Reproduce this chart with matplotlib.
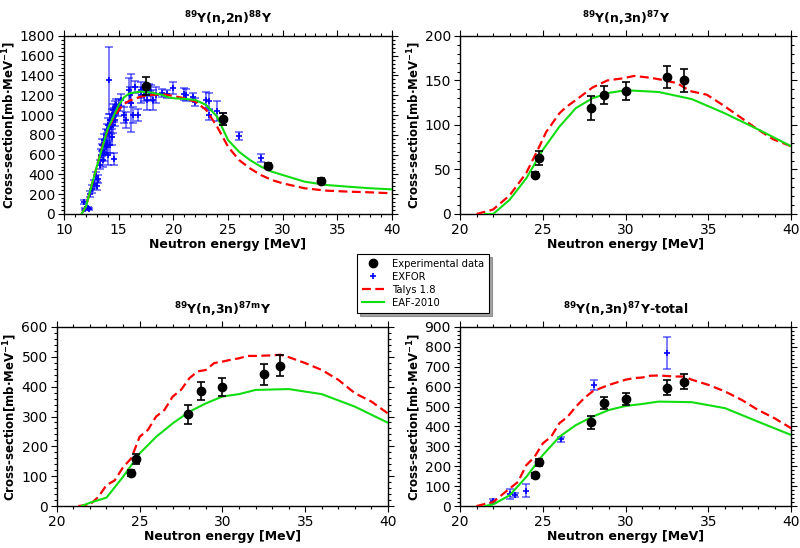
import matplotlib
matplotlib.use("Agg")
import matplotlib.pyplot as plt
from matplotlib.ticker import MultipleLocator, AutoMinorLocator
import numpy as np

# ---------------- Panel 1: 89Y(n,2n)88Y ----------------
p1_exp_e = [17.5, 24.5, 28.7, 33.5]
p1_exp_s = [1290, 960, 490, 335]
p1_exp_err = [90, 60, 30, 25]

p1_exfor_e = [11.8, 11.9, 12.2, 12.3, 12.4, 12.6, 12.7, 12.9, 13.0, 13.1,
              13.3, 13.4, 13.5, 13.5, 13.6, 13.7, 13.7, 13.8, 13.8, 13.9,
              13.9, 14.0, 14.0, 14.1, 14.1, 14.2, 14.2, 14.3, 14.4, 14.4,
              14.5, 14.5, 14.6, 14.6, 14.7, 14.7, 14.8, 14.9, 15.0, 15.2,
              15.5, 15.7, 15.9, 16.0, 16.1, 16.3, 16.5, 16.8, 17.0, 17.0,
              17.3, 17.6, 17.8, 18.0, 18.1, 18.4, 19.0, 19.4, 20.0, 21.0,
              21.2, 21.8, 22.0, 23.0, 23.3, 23.3, 24.0, 24.5, 26.0, 28.0]
p1_exfor_s = [120, 50, 60, 55, 200, 250, 300, 380, 280, 350,
              500, 600, 650, 700, 550, 750, 620, 800, 680, 850,
              720, 900, 600, 1350, 820, 950, 700, 880, 1000, 780,
              1050, 900, 1000, 560, 1080, 950, 1100, 1050, 1100, 1150,
              1000, 950, 1250, 1200, 1120, 1000, 1280, 1000, 1250, 1200,
              1200, 1150, 1250, 1220, 1150, 1200, 1220, 1210, 1270, 1210,
              1200, 1180, 1130, 1150, 1140, 1000, 1040, 960, 790, 570]
p1_exfor_err = [20, 10, 10, 10, 30, 40, 40, 40, 40, 40,
                50, 60, 60, 60, 80, 60, 80, 60, 80, 60,
                100, 70, 100, 340, 80, 60, 80, 70, 60, 80,
                60, 80, 70, 60, 60, 60, 60, 60, 60, 60,
                80, 80, 120, 80, 290, 80, 60, 60, 80, 80,
                60, 100, 60, 80, 100, 80, 40, 40, 60, 60,
                60, 40, 40, 80, 80, 50, 100, 60, 40, 40]

p1_talys_e = [11.6, 12, 12.5, 13, 13.5, 14, 14.5, 15, 15.5, 16, 17, 18, 19, 20,
              21, 22, 23, 24, 25, 26, 27, 28, 29, 30, 32, 34, 36, 38, 40]
p1_talys_s = [0, 74, 276, 479, 681, 849, 967, 1052, 1112, 1146, 1186, 1203, 1210, 1193,
              1170, 1136, 1052, 883, 681, 546, 462, 394, 344, 310, 260, 236, 226, 219, 209]
p1_eaf_e = [11.6, 12, 13, 14, 15, 15.5, 16, 17, 18, 19, 19.5, 20, 21, 22, 23,
            24, 25, 26, 27, 28, 29, 30, 32, 34, 36, 38, 40]
p1_eaf_s = [0, 74, 480, 860, 1100, 1180, 1220, 1237, 1227, 1203, 1180, 1170, 1163, 1153, 1102,
            984, 748, 630, 546, 479, 428, 394, 327, 293, 276, 260, 249]

# ---------------- Panel 2: 89Y(n,3n)87Y ----------------
p2_exp_e = [24.5, 24.8, 27.9, 28.7, 30.0, 32.5, 33.5]
p2_exp_s = [44, 63, 119, 134, 138, 154, 150]
p2_exp_err = [3, 8, 13, 10, 10, 12, 13]
p2_talys_e = [21, 22, 23, 24, 24.8, 25.2, 26, 26.4, 27, 28, 28.9, 29.7, 30, 30.5, 31.5,
              32.1, 33.1, 33.9, 34.9, 35.9, 36.9, 37.9, 38.9, 40]
p2_talys_s = [0, 5, 21, 46, 76, 92, 113, 120, 128, 142, 150, 152, 153, 155, 153,
              151, 147, 138, 134, 122, 109, 96, 84, 76]
p2_eaf_e = [21.5, 22, 23, 24, 25, 26, 27, 28, 29, 30, 32, 34, 36, 38, 40]
p2_eaf_s = [0, 0, 16, 40, 72, 98, 119, 130, 136, 139, 137, 129, 113, 95, 76]

# ---------------- Panel 3: 89Y(n,3n)87mY ----------------
p3_exp_e = [24.5, 24.8, 27.9, 28.7, 30.0, 32.5, 33.5]
p3_exp_s = [112, 157, 307, 385, 400, 441, 470]
p3_exp_err = [10, 17, 32, 30, 30, 35, 35]
p3_talys_e = [21.3, 22, 22.5, 23, 23.5, 24, 24.5, 25, 25.5, 26, 26.5, 27, 27.5, 28, 28.5,
              29, 29.5, 30, 30.5, 31, 31.5, 32, 33, 33.5, 34, 35, 36, 37, 38, 39, 40]
p3_talys_s = [0, 5, 30, 70, 86, 130, 160, 232, 255, 300, 322, 367, 389, 428, 451,
              456, 479, 484, 490, 495, 503, 503, 505, 507, 499, 479, 456, 423, 378, 350, 310]
p3_eaf_e = [21.5, 22, 23, 24, 25, 26, 27, 28, 29, 30, 31, 32, 34, 36, 38, 40]
p3_eaf_s = [0, 11, 28, 98, 176, 232, 277, 316, 344, 367, 375, 389, 392, 375, 333, 279]

# ---------------- Panel 4: 89Y(n,3n)87Y-total ----------------
p4_exp_e = [24.5, 24.8, 27.9, 28.7, 30.0, 32.5, 33.5]
p4_exp_s = [155, 220, 420, 518, 540, 595, 625]
p4_exp_err = [12, 18, 35, 30, 30, 38, 38]
p4_exfor_e = [22.0, 23.0, 23.3, 24.0, 24.5, 26.1, 28.1, 32.5]
p4_exfor_s = [25, 60, 55, 78, 155, 335, 610, 770]
p4_exfor_err = [12, 25, 8, 35, 10, 12, 25, 80]
p4_talys_e = [21, 22, 23, 23.5, 24, 24.5, 25, 25.5, 26, 26.5, 27, 27.5, 28, 28.5, 29,
              30, 30.5, 31, 31.5, 32, 33, 33.5, 34, 35, 36, 37, 38, 39, 40]
p4_talys_s = [0, 20, 88, 121, 205, 247, 315, 348, 416, 449, 500, 542, 576, 593, 609,
              635, 643, 646, 655, 656, 651, 651, 635, 609, 576, 534, 483, 441, 391]
p4_eaf_e = [21.5, 22, 23, 24, 25, 26, 27, 28, 29, 30, 31, 32, 34, 36, 38, 40]
p4_eaf_s = [0, 8, 54, 146, 256, 348, 407, 449, 483, 503, 513, 525, 522, 492, 424, 357]

titles = [r"$\mathbf{^{89}}$Y(n,2n)$\mathbf{^{88}}$Y", r"$\mathbf{^{89}}$Y(n,3n)$\mathbf{^{87}}$Y",
          r"$\mathbf{^{89}}$Y(n,3n)$\mathbf{^{87m}}$Y", r"$\mathbf{^{89}}$Y(n,3n)$\mathbf{^{87}}$Y-total"]
ylabel = "Cross-section[mb·MeV$\\mathbf{^{-1}}$]"
xlabel = "Neutron energy [MeV]"
legend_labels = ["Experimental data", "EXFOR", "Talys 1.8", "EAF-2010"]

plt.rcParams['font.family'] = ['DejaVu Sans']
plt.rcParams['mathtext.fontset'] = 'dejavusans'

fig = plt.figure(figsize=(8, 5.48), dpi=100)
axpos = [[0.080, 0.6095, 0.410, 0.325],
         [0.575, 0.6095, 0.414, 0.325],
         [0.071, 0.0766, 0.414, 0.3267],
         [0.575, 0.0766, 0.414, 0.3267]]

RED = "#ff0000"
GREEN = "#11dd11"
BLUE = "#0000ff"

panels = [
    dict(exp=(p1_exp_e, p1_exp_s, p1_exp_err), exfor=(p1_exfor_e, p1_exfor_s, p1_exfor_err),
         talys=(p1_talys_e, p1_talys_s), eaf=(p1_eaf_e, p1_eaf_s),
         xlim=(10, 40), ylim=(0, 1800), ymaj=200),
    dict(exp=(p2_exp_e, p2_exp_s, p2_exp_err), exfor=None,
         talys=(p2_talys_e, p2_talys_s), eaf=(p2_eaf_e, p2_eaf_s),
         xlim=(20, 40), ylim=(0, 200), ymaj=50),
    dict(exp=(p3_exp_e, p3_exp_s, p3_exp_err), exfor=None,
         talys=(p3_talys_e, p3_talys_s), eaf=(p3_eaf_e, p3_eaf_s),
         xlim=(20, 40), ylim=(0, 600), ymaj=100),
    dict(exp=(p4_exp_e, p4_exp_s, p4_exp_err), exfor=(p4_exfor_e, p4_exfor_s, p4_exfor_err),
         talys=(p4_talys_e, p4_talys_s), eaf=(p4_eaf_e, p4_eaf_s),
         xlim=(20, 40), ylim=(0, 900), ymaj=100),
]

handles = None
for i, p in enumerate(panels):
    ax = fig.add_axes(axpos[i])
    h_ex = None
    if p['exfor'] is not None:
        e, s, er = p['exfor']
        ax.errorbar(e, s, yerr=er, fmt='none', ecolor=BLUE, alpha=0.6,
                    elinewidth=1.2, capsize=3, capthick=1.2, zorder=2)
        h_ex, = ax.plot(e, s, '+', color=BLUE, ms=5, mew=1.2, zorder=3, linestyle='none')
    e, s = p['talys']
    h_t, = ax.plot(e, s, '--', color=RED, lw=1.6, dashes=(4, 2), zorder=4)
    e, s = p['eaf']
    h_g, = ax.plot(e, s, '-', color=GREEN, lw=1.5, zorder=4)
    e, s, er = p['exp']
    ax.errorbar(e, s, yerr=er, fmt='none', ecolor='black', elinewidth=1.2,
                capsize=3, capthick=1.2, zorder=5)
    h_e, = ax.plot(e, s, 'o', color='black', ms=6, zorder=6, linestyle='none')
    if h_ex is None:
        h_ex = ax.plot([], [], '+', color=BLUE, ms=5, mew=1.2, linestyle='none')[0]
    if handles is None:
        handles = [h_e, h_ex, h_t, h_g]

    ax.set_xlim(*p['xlim'])
    ax.set_ylim(*p['ylim'])
    ax.xaxis.set_major_locator(MultipleLocator(5))
    ax.xaxis.set_minor_locator(MultipleLocator(1))
    ax.yaxis.set_major_locator(MultipleLocator(p['ymaj']))
    ax.yaxis.set_minor_locator(AutoMinorLocator(5))
    ax.tick_params(which='both', direction='out', top=True, right=True,
                   labelsize=10, width=0.8, pad=2.5)
    ax.tick_params(which='major', length=4)
    ax.tick_params(which='minor', length=2.2)
    for sp in ax.spines.values():
        sp.set_linewidth(1.0)
    ax.set_title(titles[i], fontsize=9, fontweight='bold', pad=9)
    ax.set_ylabel(ylabel, fontsize=8.5, fontweight='bold', labelpad=1.5)
    ax.set_xlabel(xlabel, fontsize=9, fontweight='bold', labelpad=1)

leg = fig.legend(handles, legend_labels, loc='upper left',
                 bbox_to_anchor=(0.44, 0.546), fontsize=7.2, frameon=True,
                 fancybox=False, shadow=True, edgecolor='black',
                 handlelength=2.2, borderpad=0.5, labelspacing=0.3)
leg.get_frame().set_linewidth(0.8)

fig.savefig("out.png", dpi=100)
